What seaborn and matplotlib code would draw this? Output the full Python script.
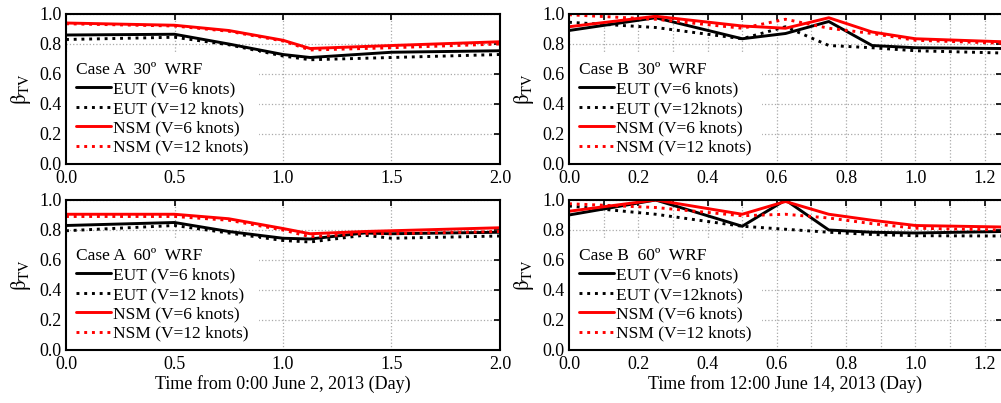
import numpy as np
import pandas as pd
import matplotlib
matplotlib.use("Agg")
import matplotlib.pyplot as plt
from matplotlib.ticker import MultipleLocator
import seaborn as sns

# ---------------- data ----------------
xA30 = [0, 0.5, 0.75, 1.0, 1.125, 1.5, 2.0]
A30_eut6 = [0.86, 0.865, 0.80, 0.73, 0.71, 0.745, 0.755]
A30_eut12 = [0.83, 0.845, 0.795, 0.72, 0.695, 0.71, 0.73]
A30_nsm6 = [0.94, 0.925, 0.89, 0.825, 0.77, 0.79, 0.815]
A30_nsm12 = [0.935, 0.92, 0.885, 0.82, 0.76, 0.775, 0.80]

xA60 = [0, 0.5, 0.75, 1.0, 1.125, 1.375, 1.5, 2.0]
A60_eut6 = [0.83, 0.85, 0.79, 0.745, 0.74, 0.78, 0.775, 0.785]
A60_eut12 = [0.795, 0.83, 0.78, 0.73, 0.72, 0.765, 0.745, 0.76]
A60_nsm6 = [0.905, 0.905, 0.875, 0.81, 0.775, 0.79, 0.795, 0.815]
A60_nsm12 = [0.89, 0.89, 0.865, 0.80, 0.755, 0.775, 0.775, 0.79]

xB30 = [0, 0.25, 0.5, 0.625, 0.75, 0.875, 1.0, 1.25]
B30_eut6 = [0.89, 0.975, 0.835, 0.87, 0.95, 0.79, 0.775, 0.77]
B30_eut12 = [0.945, 0.91, 0.835, 0.915, 0.79, 0.775, 0.755, 0.74]
B30_nsm6 = [0.915, 0.985, 0.92, 0.905, 0.975, 0.88, 0.835, 0.815]
B30_nsm12 = [0.995, 0.965, 0.905, 0.965, 0.905, 0.87, 0.825, 0.805]

xB60 = [0, 0.25, 0.5, 0.625, 0.75, 0.875, 1.0, 1.25]
B60_eut6 = [0.90, 1.0, 0.825, 1.0, 0.80, 0.785, 0.78, 0.79]
B60_eut12 = [0.96, 0.905, 0.825, 0.805, 0.785, 0.77, 0.762, 0.76]
B60_nsm6 = [0.925, 1.0, 0.905, 0.99, 0.905, 0.865, 0.83, 0.82]
B60_nsm12 = [0.975, 0.95, 0.895, 0.905, 0.88, 0.842, 0.812, 0.80]

labels_A = ["EUT (V=6 knots)", "EUT (V=12 knots)", "NSM (V=6 knots)", "NSM (V=12 knots)"]
labels_B = ["EUT (V=6 knots)", "EUT (V=12knots)", "NSM (V=6 knots)", "NSM (V=12 knots)"]
titles = ["Case A  30º  WRF", "Case B  30º  WRF", "Case A  60º  WRF", "Case B  60º  WRF"]
xlabel_A = "Time from 0:00 June 2, 2013 (Day)"
xlabel_B = "Time from 12:00 June 14, 2013 (Day)"

# ---------------- style ----------------
sns.set_style("white")
plt.rcParams["font.family"] = ["Liberation Serif", "DejaVu Serif"]
plt.rcParams["mathtext.fontset"] = "stix"
plt.rcParams["text.color"] = "black"
plt.rcParams["axes.labelcolor"] = "black"
plt.rcParams["xtick.color"] = "black"
plt.rcParams["ytick.color"] = "black"
plt.rcParams["legend.labelcolor"] = "black"
FS = 12

fig = plt.figure(figsize=(10.01, 4.03), dpi=100)
W, H = 1001, 403

def make_ax(x0, x1, y0, y1):
    return fig.add_axes([x0 / W, (H - y1) / H, (x1 - x0) / W, (y1 - y0) / H])

axA30 = make_ax(66, 500, 14, 164)
axB30 = make_ax(569, 1002, 14, 164)
axA60 = make_ax(66, 500, 200, 350)
axB60 = make_ax(569, 1002, 200, 350)

styles = [("black", "-"), ("black", ":"), ("#ff0000", "-"), ("#ff0000", ":")]

panels = [
    (axA30, xA30, [A30_eut6, A30_eut12, A30_nsm6, A30_nsm12], labels_A, titles[0], "A", None),
    (axB30, xB30, [B30_eut6, B30_eut12, B30_nsm6, B30_nsm12], labels_B, titles[1], "B", None),
    (axA60, xA60, [A60_eut6, A60_eut12, A60_nsm6, A60_nsm12], labels_A, titles[2], "A", xlabel_A),
    (axB60, xB60, [B60_eut6, B60_eut12, B60_nsm6, B60_nsm12], labels_B, titles[3], "B", xlabel_B),
]

for ax, xs, series, labs, title, case, xlab in panels:
    for ys, lab, (c, ls) in zip(series, labs, styles):
        df = pd.DataFrame({"x": xs, "y": ys})
        sns.lineplot(data=df, x="x", y="y", ax=ax, color=c, linestyle=ls,
                     linewidth=2.1, label=lab, sort=False, zorder=3)
    ax.set_ylim(0, 1.0)
    ax.yaxis.set_major_locator(MultipleLocator(0.2))
    if case == "A":
        ax.set_xlim(0, 2.0)
        ax.xaxis.set_major_locator(MultipleLocator(0.5))
    else:
        ax.set_xlim(0, 1.25)
        ax.xaxis.set_major_locator(MultipleLocator(0.2))
        ax.xaxis.set_minor_locator(MultipleLocator(0.1))
    ax.xaxis.set_major_formatter(matplotlib.ticker.FormatStrFormatter("%.1f"))
    ax.yaxis.set_major_formatter(matplotlib.ticker.FormatStrFormatter("%.1f"))
    ax.grid(True, which="both", color="#aaaaaa", linestyle=":", linewidth=0.9)
    ax.tick_params(which="both", direction="in", top=True, right=True,
                   length=4.5, width=1.2, labelsize=FS + 1, colors="black")
    ax.tick_params(axis="x", pad=4)
    ax.tick_params(axis="y", pad=3)
    for s in ax.spines.values():
        s.set_color("black")
        s.set_linewidth(1.5)
        s.set_zorder(5)
    ax.set_ylabel(r"$\mathrm{\beta_{TV}}$", fontsize=FS + 3, labelpad=5)
    if xlab:
        ax.set_xlabel(xlab, fontsize=FS + 1, labelpad=2)
    else:
        ax.set_xlabel("")
    leg = ax.legend(title=title, loc="lower left", bbox_to_anchor=(0.0, -0.015),
                    borderaxespad=0.0, fontsize=FS + 0.5, title_fontsize=FS + 0.5,
                    frameon=True, fancybox=False, framealpha=1.0,
                    handlelength=2.0, handletextpad=0.1, labelspacing=0.19,
                    borderpad=0.6, alignment="left")
    leg.get_frame().set_facecolor("white")
    leg.get_frame().set_edgecolor("none")
    leg.get_title().set_color("black")
    for t in leg.get_texts():
        t.set_color("black")
    leg.set_zorder(4)

fig.savefig("out.png", dpi=100)
